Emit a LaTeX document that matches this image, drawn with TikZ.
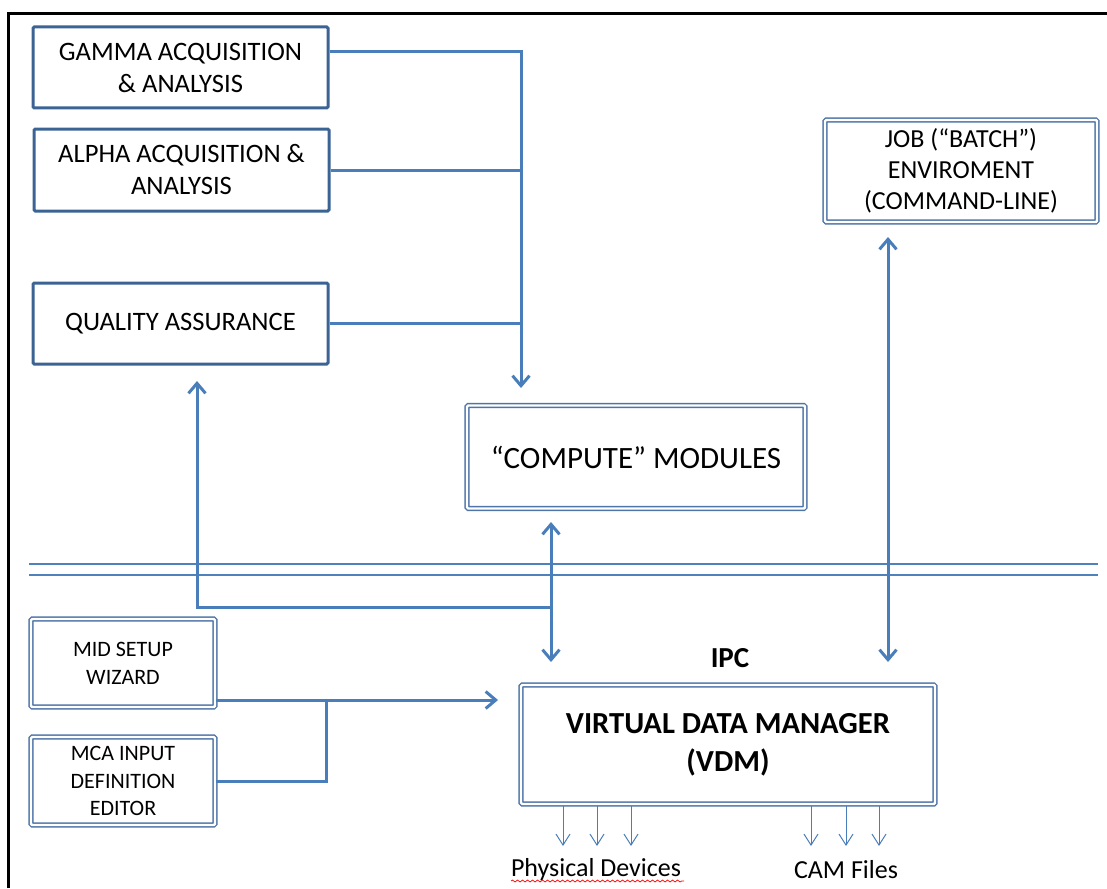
\documentclass[tikz,border=0pt]{standalone}
\usepackage{fontspec}
\setmainfont{Carlito}
\usetikzlibrary{arrows.meta,decorations.pathmorphing}
\definecolor{boxc}{HTML}{3B6494}
\definecolor{dboxc}{HTML}{4F75A8}
\definecolor{arrc}{HTML}{4A7EBB}
\definecolor{sepc}{HTML}{4F81BD}
\begin{document}
\begin{tikzpicture}[x=0.5pt,y=-0.5pt,
  sbox/.style={draw=boxc, line width=1.5pt, rounded corners=0.6pt, align=center, inner sep=0pt,
    font=\fontsize{13.3}{16}\selectfont, minimum width=147.5pt, minimum height=40.5pt},
  dbox/.style={draw=dboxc, double=white, double distance=1.2pt, line width=0.7pt, rounded corners=0.6pt,
    align=center, inner sep=0pt},
  conn/.style={draw=arrc, line width=1.5pt, >={Straight Barb[length=5pt,width=8.5pt]}},
  thinarr/.style={draw=arrc, line width=0.5pt, ->, >={Straight Barb[length=5.5pt,width=7pt]}},
  sepline/.style={draw=sepc, line width=0.75pt},
  lbl/.style={inner sep=0pt, font=\fontsize{13}{16}\selectfont}]
\useasboundingbox (0,0) rectangle (1107,888);
% frame
\draw[black, line width=1.2pt] (8.5,888) -- (8.5,13.5) -- (1107,13.5);
% separator double line
\draw[sepline] (29,564) -- (1098,564);
\draw[sepline] (29,575) -- (1098,575);
% boxes
\node[sbox] (gamma) at (180.5,67.5) {GAMMA ACQUISITION\\\& ANALYSIS};
\node[sbox, minimum height=41pt] (alpha) at (181.5,170) {ALPHA ACQUISITION \&\\ANALYSIS};
\node[sbox] (qa) at (180.5,323.5) {QUALITY ASSURANCE};
\node[dbox, minimum width=169pt, minimum height=51.5pt, font=\fontsize{15.5}{18}\selectfont] (compute) at (636,457) {“COMPUTE” MODULES};
\node[dbox, minimum width=136pt, minimum height=51pt, font=\fontsize{13}{15.5}\selectfont] (job) at (961,171) {JOB (“BATCH”)\\ENVIROMENT\\(COMMAND-LINE)};
\node[dbox, minimum width=92pt, minimum height=44pt, font=\fontsize{11}{14}\selectfont] (mid) at (123,663) {MID SETUP\\WIZARD};
\node[dbox, minimum width=92pt, minimum height=44pt, font=\fontsize{11}{13.7}\selectfont] (mca) at (123,781) {MCA INPUT\\DEFINITION\\EDITOR};
\node[dbox, minimum width=207pt, minimum height=59.5pt, font=\fontsize{15.3}{19}\selectfont\bfseries] (vdm) at (728,744.5) {VIRTUAL DATA MANAGER\\(VDM)};
\node[inner sep=0pt, font=\fontsize{14.5}{17}\selectfont\bfseries] (ipc) at (730,658) {IPC};
% connectors: acquisition bus to compute
\coordinate (bus1) at (521,52);
\coordinate (busend) at (521,388);
\draw[conn,->] (gamma.east |- bus1) -- (bus1) -- (busend);
\draw[conn] (alpha.east) -- (alpha.east -| bus1);
\draw[conn] (qa.east) -- (qa.east -| bus1);
% compute <-> VDM and branch to QA
\coordinate (c1) at (551,522);
\coordinate (c2) at (551,662);
\coordinate (j1) at (551,607);
\coordinate (qaup) at (197,381);
\draw[conn,<->] (c1) -- (c2);
\draw[conn,->] (j1) -- (j1 -| qaup) -- (qaup);
% job <-> VDM
\coordinate (jb1) at (888,237);
\coordinate (jb2) at (888,662);
\draw[conn,<->] (jb1) -- (jb2);
% MID / MCA to VDM
\coordinate (m1) at (498,700);
\coordinate (mj) at (326,700);
\draw[conn,->] (mid.east |- m1) -- (m1);
\draw[conn] (mca.east) -- (mca.east -| mj) -- (mj);
% outputs
\foreach \xx in {563,597,631,811,846,879} \draw[thinarr] (\xx,806) -- (\xx,846);
\node[lbl] (phys) at (596,870) {Physical Devices};
\node[lbl] (cam) at (846,870) {CAM Files};
\draw[red, line width=0.35pt, decorate, decoration={snake, amplitude=0.5pt, segment length=2.5pt}] (511,881) -- (684,881);
\end{tikzpicture}
\end{document}
